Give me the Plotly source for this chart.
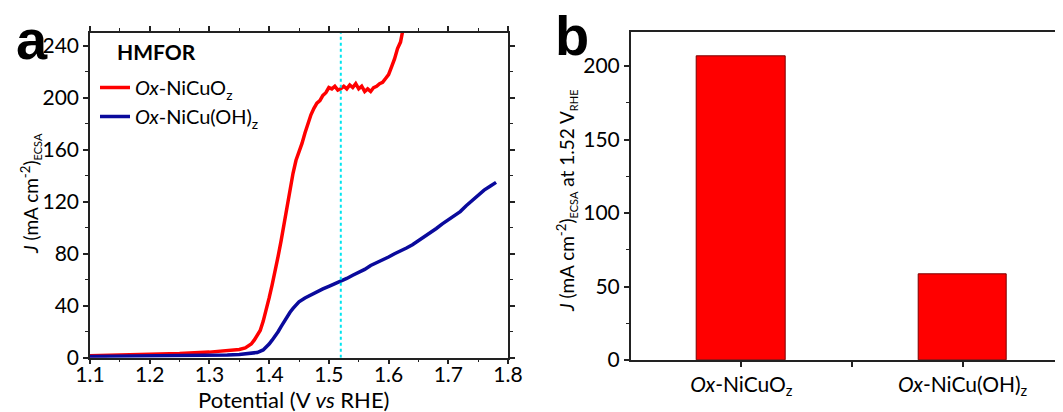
import plotly.graph_objects as go

# ---- data ----
red_x = [1.10, 1.15, 1.20, 1.25, 1.30, 1.33, 1.35, 1.36, 1.37, 1.375, 1.38, 1.385, 1.39, 1.395,
         1.40, 1.405, 1.41, 1.415, 1.42, 1.425, 1.43, 1.435, 1.44, 1.445, 1.45, 1.455, 1.46,
         1.465, 1.47, 1.475, 1.48, 1.485, 1.49, 1.495, 1.50, 1.505, 1.51, 1.515, 1.52, 1.525,
         1.53, 1.535, 1.54, 1.545, 1.55, 1.555, 1.56, 1.565, 1.57, 1.575, 1.58, 1.585, 1.59,
         1.595, 1.60, 1.605, 1.61, 1.615, 1.62, 1.623, 1.626]
red_y = [1.5, 2.0, 2.5, 3.2, 4.3, 5.2, 6.3, 7.5, 10.5, 13.5, 17, 21, 28, 36,
         46, 56, 66, 78, 90, 104, 118, 132, 142, 152, 158, 165, 173,
         181, 187, 192, 196, 198, 202, 204, 208, 207, 209, 206, 207, 209,
         207, 210, 208, 211, 207, 209, 205, 207, 205, 208, 209, 211, 212,
         215, 218, 224, 230, 238, 243, 250, 256]

blue_x = [1.10, 1.15, 1.20, 1.25, 1.30, 1.33, 1.35, 1.37, 1.38, 1.39, 1.395, 1.40, 1.405, 1.41,
          1.415, 1.42, 1.425, 1.43, 1.435, 1.44, 1.445, 1.45, 1.46, 1.47, 1.48, 1.49, 1.50,
          1.51, 1.52, 1.53, 1.54, 1.55, 1.56, 1.57, 1.58, 1.59, 1.60, 1.61, 1.62, 1.63, 1.64,
          1.65, 1.66, 1.67, 1.68, 1.69, 1.70, 1.71, 1.72, 1.73, 1.74, 1.75, 1.76, 1.77, 1.78]
blue_y = [1.0, 1.1, 1.3, 1.5, 1.8, 2.1, 2.5, 3.2, 4.0, 6.0, 8.0, 10.5, 13.5, 16.5,
          20, 24, 28, 32, 35, 38, 41, 43, 46, 48.5, 51, 53, 55,
          57, 58.5, 61, 63.5, 65.5, 68, 71, 73, 75, 77.5, 80, 82, 84.5, 87,
          90, 93.5, 96.5, 99.5, 103, 106, 109, 112.5, 117, 121, 125, 129, 132, 135]

marker_potential = 1.52

bar_labels = ["<i>Ox</i>-NiCuO<sub>z</sub>", "<i>Ox</i>-NiCu(OH)<sub>z</sub>"]
bar_pos = [0, 1]
bar_values = [207, 58]

names = ["<i>Ox</i>-NiCuO<sub>z</sub>", "<i>Ox</i>-NiCu(OH)<sub>z</sub>"]

# the page body has an 8px margin; size the figure so it fills the window exactly
OFF = 8
W, H = 1063 - OFF, 412 - OFF


def px(x):
    return (x - OFF) / W


def py(y):
    return 1 - (y - OFF) / H


FONT = "Lato"

fig = go.Figure()

fig.add_trace(go.Scatter(x=red_x, y=red_y, mode="lines", name=names[0],
                         line=dict(color="#ff0000", width=3.5), xaxis="x", yaxis="y"))
fig.add_trace(go.Scatter(x=blue_x, y=blue_y, mode="lines", name=names[1],
                         line=dict(color="#0a0a9c", width=3.5), xaxis="x", yaxis="y"))

fig.add_trace(go.Bar(x=bar_pos, y=bar_values, width=0.4, showlegend=False,
                     marker=dict(color="#ff0000", line=dict(color="#7a0000", width=1)),
                     xaxis="x2", yaxis="y2"))

# vertical marker line at 1.52 V
fig.add_shape(type="line", xref="x", yref="y", x0=marker_potential, x1=marker_potential,
              y0=0, y1=250, line=dict(color="#00e5f0", width=2, dash="dot"))

axis_common = dict(showline=True, linecolor="#222", linewidth=1.5, ticks="outside",
                   tickcolor="#222", tickwidth=1.5, ticklen=5, showgrid=False, zeroline=False,
                   automargin=False,
                   tickfont=dict(family=FONT, size=21, color="#000"))

fig.update_layout(
    width=W, height=H, margin=dict(l=0, r=0, t=0, b=0, autoexpand=False),
    paper_bgcolor="white", plot_bgcolor="white",
    font=dict(family=FONT, color="#000"),
    showlegend=True,
    legend=dict(x=px(95), y=py(68), xanchor="left", yanchor="top",
                bgcolor="rgba(0,0,0,0)", font=dict(family=FONT, size=20),
                tracegroupgap=0, itemwidth=30),
    bargap=0,
    xaxis=dict(domain=[px(90), px(508)], range=[1.1, 1.8], anchor="y",
               tickvals=[1.1, 1.2, 1.3, 1.4, 1.5, 1.6, 1.7, 1.8],
               ticktext=["1.1", "1.2", "1.3", "1.4", "1.5", "1.6", "1.7", "1.8"],
               ticklabelstandoff=-8,
               mirror="ticks", minor=dict(dtick=0.05, tick0=1.1, ticks="outside", ticklen=3,
                                          tickcolor="#222", tickwidth=1),
               **axis_common),
    yaxis=dict(domain=[py(357.7), py(33)], range=[0, 250], anchor="x",
               tickvals=[0, 40, 80, 120, 160, 200, 240], mirror="ticks",
               minor=dict(dtick=20, tick0=0, ticks="outside", ticklen=3,
                          tickcolor="#222", tickwidth=1),
               **axis_common),
    xaxis2=dict(domain=[px(630.7), 1.0], range=[-0.5, 1.454], anchor="y2",
                tickvals=[0, 0.5, 1], ticktext=[bar_labels[0], "", bar_labels[1]],
                mirror=True, **axis_common),
    yaxis2=dict(domain=[py(360), py(32.3)], range=[0, 223], anchor="x2",
                tickvals=[0, 50, 100, 150, 200],
                minor=dict(dtick=25, tick0=0, ticks="outside", ticklen=3,
                           tickcolor="#222", tickwidth=1),
                **axis_common),
)

SUBS = '<sub><span style="font-size:11px">{}</span></sub>'

ann = []
ann.append(dict(text="<b>a</b>", x=px(14), y=py(6), xref="paper", yref="paper",
                xanchor="left", yanchor="top", showarrow=False,
                font=dict(family="Liberation Sans", size=56, color="#000")))
ann.append(dict(text="<b>b</b>", x=px(553), y=py(2), xref="paper", yref="paper",
                xanchor="left", yanchor="top", showarrow=False,
                font=dict(family="Liberation Sans", size=56, color="#000")))
ann.append(dict(text="<b>HMFOR</b>", x=px(115), y=py(52), xref="paper", yref="paper",
                xanchor="left", yanchor="middle", showarrow=False,
                font=dict(family=FONT, size=21, color="#000")))
ann.append(dict(text="Potential (V <i>vs</i> RHE)", x=px(294), y=py(399),
                xref="paper", yref="paper", xanchor="center", yanchor="middle",
                showarrow=False, font=dict(family=FONT, size=22, color="#000")))
ann.append(dict(text="<i>J</i> (mA cm<sup>-2</sup>)" + SUBS.format("ECSA"), x=px(30), y=py(194),
                xref="paper", yref="paper", xanchor="center", yanchor="middle", textangle=-90,
                showarrow=False, font=dict(family=FONT, size=19, color="#000")))
ann.append(dict(text="<i>J</i> (mA cm<sup>-2</sup>)" + SUBS.format("ECSA") + " at 1.52 V"
                + SUBS.format("RHE"),
                x=px(566), y=py(201), xref="paper", yref="paper", xanchor="center",
                yanchor="middle", textangle=-90, showarrow=False,
                font=dict(family=FONT, size=19, color="#000")))
fig.update_layout(annotations=ann)

fig.write_html("out.html")
